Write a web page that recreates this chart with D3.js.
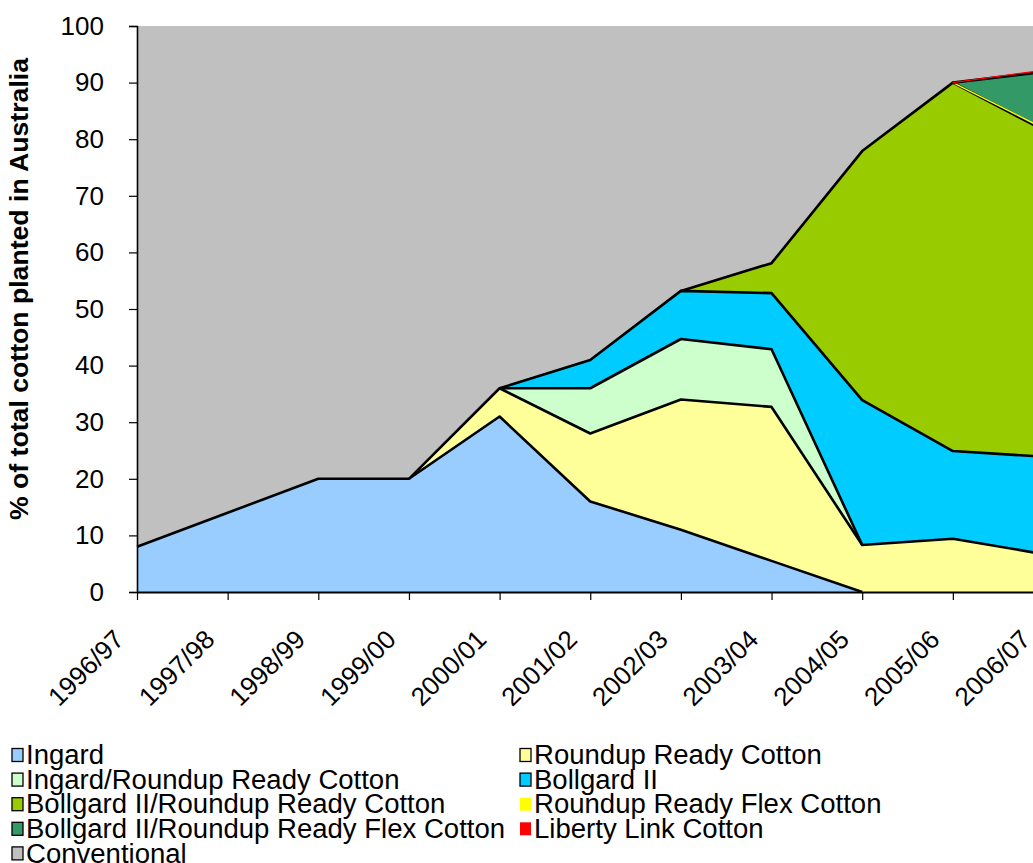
<!DOCTYPE html>
<html>
<head>
<meta charset="utf-8">
<script src="https://cdn.jsdelivr.net/npm/d3@7"></script>
<style>
  html, body { margin: 0; padding: 0; background: #ffffff; overflow: hidden; }
  svg { display: block; font-family: "Liberation Sans", Arial, sans-serif; }
</style>
</head>
<body>
<svg id="chart" width="1033" height="863"></svg>
<script>
// ---- data ----
const seasons = ["1996/97","1997/98","1998/99","1999/00","2000/01","2001/02","2002/03","2003/04","2004/05","2005/06","2006/07"];
const seriesNames = ["Ingard","Roundup Ready Cotton","Ingard/Roundup Ready Cotton","Bollgard II","Bollgard II/Roundup Ready Cotton","Roundup Ready Flex Cotton","Bollgard II/Roundup Ready Flex Cotton","Liberty Link Cotton","Conventional"];
const ingard        = [8, 14, 20, 20, 31, 16, 11, 5.5, 0, 0, 0];
const roundupReady  = [0, 0, 0, 0, 5, 12, 23, 27.2, 8.3, 9.4, 6.7];
const ingardRR      = [0, 0, 0, 0, 0, 8, 10.7, 10.2, 0, 0, 0];
const bollgardII    = [0, 0, 0, 0, 0, 5, 8.5, 9.9, 25.6, 15.5, 17.2];
const bollgardIIRR  = [0, 0, 0, 0, 0, 0, 0, 5.3, 44, 65.1, 57.7];
const rrFlex        = [0, 0, 0, 0, 0, 0, 0, 0, 0, 0, 0.3];
const bollgardIIRRFlex = [0, 0, 0, 0, 0, 0, 0, 0, 0, 0, 10];
const libertyLink   = [0, 0, 0, 0, 0, 0, 0, 0, 0, 0, 0.3];
const conventional  = [92, 86, 80, 80, 64, 59, 46.8, 41.9, 22.1, 10, 7.8];
const yTicks = [0, 10, 20, 30, 40, 50, 60, 70, 80, 90, 100];
const yTitle = "% of total cotton planted in Australia";

const seriesValues = [ingard, roundupReady, ingardRR, bollgardII, bollgardIIRR, rrFlex, bollgardIIRRFlex, libertyLink, conventional];
const fills   = ["#99CCFF","#FFFF99","#CCFFCC","#00CCFF","#99CC00","#FFFF00","#339966","#FF0000","#C0C0C0"];
const strokes = ["#000","#000","#000","#000","#000","#FFFF00","#000","#FF0000","none"];

// ---- build table ----
const table = seasons.map((s, i) => {
  const row = { season: s };
  seriesNames.forEach((n, k) => row[n] = seriesValues[k][i]);
  return row;
});
const stacked = d3.stack().keys(seriesNames)(table);

const svg = d3.select("#chart");
const plotLeft = 137, plotTop = 26, plotBottom = 592;
const x = d3.scalePoint().domain(seasons).range([plotLeft, 1043.5]);
const y = d3.scaleLinear().domain([0, 100]).range([plotBottom, plotTop]);

const area = d3.area()
  .x(d => x(d.data.season))
  .y0(d => y(d[0]))
  .y1(d => y(Math.min(100, d[1])));

const gAreas = svg.append("g");
gAreas.selectAll("path.fill").data(stacked).join("path")
  .attr("class", "fill")
  .attr("d", area)
  .attr("fill", (d, i) => fills[i])
  .attr("stroke", "none");

// outlines: only along segments where the layer has some thickness
function edgePath(layer) {
  const th = layer.map(d => d[1] - d[0]);
  const def = th.map((t, i) => t > 0 || (i > 0 && th[i - 1] > 0) || (i < th.length - 1 && th[i + 1] > 0));
  return d3.line()
    .defined((d, i) => def[i])
    .x(d => x(d.data.season))
    .y(d => y(d[1]))(layer);
}
gAreas.selectAll("path.edge").data(stacked.filter((d, i) => strokes[i] !== "none")).join("path")
  .attr("class", "edge")
  .attr("d", edgePath)
  .attr("fill", "none")
  .attr("stroke", d => strokes[d.index])
  .attr("stroke-width", d => strokes[d.index] === "#000" ? 2.6 : 1.4)
  .attr("stroke-linejoin", "round");

// ---- axes ----
const yAxis = d3.axisLeft(y).tickValues(yTicks).tickSize(8).tickPadding(25);
const gy = svg.append("g").attr("transform", `translate(${plotLeft},0)`).call(yAxis);
gy.select(".domain").attr("stroke", "#000").attr("stroke-width", 1.6);
gy.selectAll(".tick line").attr("stroke", "#000").attr("stroke-width", 1.2);
gy.selectAll(".tick text").attr("font-size", 26).attr("fill", "#000")
  .attr("font-family", "Liberation Sans, Arial, sans-serif");

const xAxis = d3.axisBottom(x).tickSize(8).tickSizeOuter(0);
const gx = svg.append("g").attr("transform", `translate(0,${plotBottom})`).call(xAxis);
gx.select(".domain").attr("stroke", "#000").attr("stroke-width", 2.2);
gx.selectAll(".tick line").attr("stroke", "#000").attr("stroke-width", 1.2);
gx.selectAll(".tick text")
  .attr("font-size", 26).attr("fill", "#000")
  .attr("font-family", "Liberation Sans, Arial, sans-serif")
  .attr("x", 0).attr("y", 0).attr("dy", 0)
  .attr("text-anchor", "end")
  .attr("transform", "translate(-12,49) rotate(-45)");

// ---- y title ----
svg.append("text")
  .attr("transform", "translate(28,289) rotate(-90)")
  .attr("text-anchor", "middle")
  .attr("font-size", 25).attr("font-weight", "bold")
  .attr("textLength", 462).attr("lengthAdjust", "spacingAndGlyphs")
  .text(yTitle);

// ---- legend ----
const legend = svg.append("g");
seriesNames.forEach((n, i) => {
  const col = i % 2, row = Math.floor(i / 2);
  const bx = col === 0 ? 12 : 520;
  const cy = 755 + row * 24.6;
  legend.append("rect")
    .attr("x", bx).attr("y", cy - 6.5).attr("width", 11).attr("height", 13)
    .attr("fill", fills[i])
    .attr("stroke", strokes[i] === "#000" || strokes[i] === "none" ? "#000" : "none")
    .attr("stroke-width", 1.3);
  legend.append("text")
    .attr("transform", `translate(${bx + 14},${cy}) scale(1.02,1)`)
    .attr("dy", "0.34em")
    .attr("font-size", 27)
    .text(n);
});
</script>
</body>
</html>
